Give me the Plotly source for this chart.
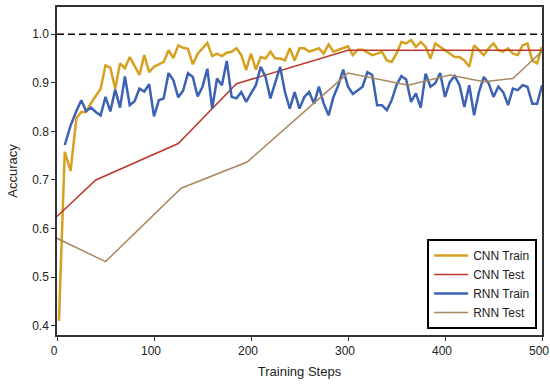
import plotly.graph_objects as go

# ---------------- data ----------------
cnn_train_steps = [2, 8, 14] + list(range(20, 501, 5))
cnn_train_acc = [
    0.41, 0.758, 0.719,
    0.827, 0.84, 0.84, 0.858, 0.872, 0.888, 0.936, 0.931, 0.888, 0.94,
    0.93, 0.953, 0.935, 0.916, 0.957, 0.922, 0.933, 0.938, 0.943, 0.967,
    0.951, 0.977, 0.972, 0.97, 0.938, 0.96, 0.97, 0.982, 0.955, 0.96,
    0.955, 0.962, 0.964, 0.971, 0.957, 0.926, 0.96, 0.927, 0.953, 0.95,
    0.964, 0.95, 0.95, 0.946, 0.971, 0.946, 0.971, 0.971, 0.964, 0.968,
    0.971, 0.96, 0.979, 0.964, 0.968, 0.971, 0.975, 0.957, 0.968, 0.968,
    0.962, 0.957, 0.96, 0.964, 0.946, 0.943, 0.96, 0.984, 0.981, 0.988,
    0.974, 0.984, 0.974, 0.95, 0.981, 0.974, 0.967, 0.96, 0.953, 0.953,
    0.946, 0.933, 0.977, 0.967, 0.957, 0.971, 0.981, 0.967, 0.964, 0.971,
    0.96, 0.957, 0.977, 0.981, 0.946, 0.94, 0.974,
]

cnn_test_steps = [0, 40, 125, 185, 300, 500]
cnn_test_acc = [0.625, 0.70, 0.775, 0.898, 0.967, 0.967]

rnn_train_steps = [8, 14] + list(range(20, 501, 5))
rnn_train_acc = [
    0.772, 0.812,
    0.842, 0.864, 0.842, 0.849, 0.84, 0.833, 0.871, 0.841, 0.886, 0.849,
    0.913, 0.854, 0.862, 0.888, 0.882, 0.897, 0.831, 0.864, 0.868, 0.92,
    0.905, 0.87, 0.884, 0.92, 0.912, 0.872, 0.892, 0.929, 0.847, 0.909,
    0.895, 0.945, 0.871, 0.868, 0.881, 0.861, 0.878, 0.895, 0.933, 0.912,
    0.868, 0.9, 0.933, 0.881, 0.847, 0.881, 0.847, 0.871, 0.881, 0.857,
    0.892, 0.857, 0.833, 0.871, 0.895, 0.927, 0.892, 0.877, 0.885, 0.892,
    0.922, 0.916, 0.854, 0.854, 0.844, 0.864, 0.895, 0.914, 0.907, 0.861,
    0.878, 0.849, 0.919, 0.892, 0.899, 0.92, 0.871, 0.902, 0.914, 0.895,
    0.85, 0.895, 0.833, 0.881, 0.912, 0.899, 0.871, 0.892, 0.881, 0.854,
    0.888, 0.885, 0.895, 0.892, 0.857, 0.857, 0.895,
]

rnn_test_steps = [0, 50, 128, 196, 300, 362, 405, 440, 470, 500]
rnn_test_acc = [0.58, 0.532, 0.683, 0.737, 0.92, 0.895, 0.916, 0.902, 0.909, 0.965]

x_ticks = [0, 100, 200, 300, 400, 500]
y_ticks = [0.4, 0.5, 0.6, 0.7, 0.8, 0.9, 1.0]
reference_acc = 1.0

# ---------------- figure ----------------
FONT = "Arial, Liberation Sans, sans-serif"
fig = go.Figure()

fig.add_trace(go.Scatter(x=cnn_train_steps, y=cnn_train_acc, mode="lines",
                         name="CNN Train", line=dict(color="#D6A020", width=2.5)))
fig.add_trace(go.Scatter(x=cnn_test_steps, y=cnn_test_acc, mode="lines",
                         name="CNN Test", line=dict(color="#BC3A2C", width=1.5)))
fig.add_trace(go.Scatter(x=rnn_train_steps, y=rnn_train_acc, mode="lines",
                         name="RNN Train", line=dict(color="#3B62B3", width=2.5)))
fig.add_trace(go.Scatter(x=rnn_test_steps, y=rnn_test_acc, mode="lines",
                         name="RNN Test", line=dict(color="#A8885E", width=1.5)))

fig.add_shape(type="line", xref="x", yref="y", x0=0, x1=500,
              y0=reference_acc, y1=reference_acc,
              line=dict(color="black", width=1.6, dash="7px,4px"), layer="above")

axis_common = dict(showline=True, linecolor="#333333", linewidth=1.5, mirror=True,
                   ticks="outside", ticklen=4, tickwidth=1.2, tickcolor="#333333",
                   showgrid=False, zeroline=False, automargin=False,
                   ticklabeloverflow="allow",
                   tickfont=dict(family=FONT, size=12, color="#222222"))

fig.update_xaxes(range=[0, 500], tickvals=x_ticks, ticklabelshift=-3,
                 title=dict(text="Training Steps", font=dict(family=FONT, size=13, color="#222222"),
                            standoff=10),
                 **axis_common)
fig.update_yaxes(range=[0.381, 1.056], tickvals=y_ticks, tickformat=".1f",
                 title=dict(text="Accuracy", font=dict(family=FONT, size=13, color="#222222"),
                            standoff=12),
                 **axis_common)

fig.update_layout(
    width=550, height=389,
    margin=dict(l=57, r=8, t=7, b=54, autoexpand=False),
    plot_bgcolor="white", paper_bgcolor="white",
    font=dict(family=FONT, size=12, color="#222222"),
    legend=dict(x=0.99, y=0.018, xanchor="right", yanchor="bottom",
                bgcolor="white", bordercolor="black", borderwidth=2,
                font=dict(family=FONT, size=12, color="#222222"),
                tracegroupgap=0, itemwidth=34),
    showlegend=True,
)

fig.write_html(
    "out.html",
    config={"displayModeBar": False},
    post_script="document.body.style.margin='0';document.body.style.padding='0';",
)
